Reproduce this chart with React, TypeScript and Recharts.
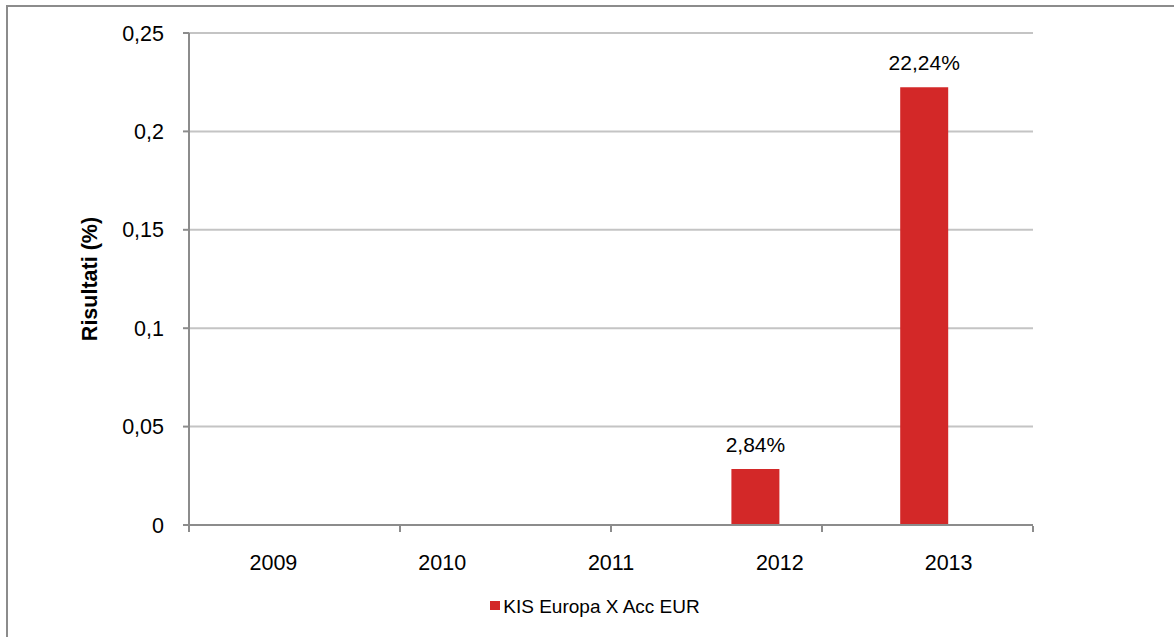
import React from "react";
import {
  BarChart,
  Bar,
  XAxis,
  YAxis,
  CartesianGrid,
  Legend,
  LabelList,
} from "recharts";

// Anni e rendimenti (frazione, 0.2224 = 22,24%)
const years = ["2009", "2010", "2011", "2012", "2013"];
const kisValues: (number | null)[] = [null, null, null, 0.0284, 0.2224];
// serie vuota: in Excel occupa il posto della seconda barra del gruppo
const emptySeries: (number | null)[] = [null, null, null, null, null];
const yTicks = [0, 0.05, 0.1, 0.15, 0.2, 0.25];
const seriesName = "KIS Europa X Acc EUR";

const data = years.map((year, i) => ({
  year,
  kis: kisValues[i],
  empty: emptySeries[i],
}));
const edgeTicks = years.map((_, i) => i).concat(years.length);

const FONT = "'Liberation Sans', Arial, sans-serif";
const AXIS = "#8c8c8c";
const GRID = "#c4c4c4";
const RED = "#d32828";
const TICK_FONT = 21.5;

const fmtTick = (v: number) => String(v).replace(".", ",");
const fmtPct = (v: number) => (v * 100).toFixed(2).replace(".", ",") + "%";

const BarLabel = (props: any) => {
  const { x, y, width, value } = props;
  if (value == null) return null;
  return (
    <text
      x={Number(x) + Number(width) / 2}
      y={Number(y) - 17}
      textAnchor="middle"
      fontSize={21}
      fontFamily={FONT}
      fill="#000"
    >
      {fmtPct(value)}
    </text>
  );
};

const AxisTitle = (props: any) => {
  const { viewBox } = props;
  const cy = viewBox.y + viewBox.height / 2;
  const cx = 90;
  return (
    <text
      x={cx}
      y={cy}
      transform={`rotate(-90, ${cx}, ${cy})`}
      textAnchor="middle"
      dominantBaseline="central"
      fontSize={21.5}
      fontWeight="bold"
      fontFamily={FONT}
      fill="#000"
    >
      Risultati (%)
    </text>
  );
};

const NoTick = () => <g />;

const LegendBox = (props: any) => {
  const items = (props.payload || []).filter((p: any) => p.type !== "none");
  return (
    <div
      style={{
        height: 110,
        boxSizing: "border-box",
        paddingTop: 69,
        paddingLeft: 16,
        display: "flex",
        justifyContent: "center",
        fontFamily: FONT,
        fontSize: 19,
        color: "#000",
      }}
    >
      {items.map((it: any) => (
        <div key={it.value} style={{ display: "flex", alignItems: "flex-start" }}>
          <span
            style={{
              display: "inline-block",
              width: 10,
              height: 9,
              marginTop: 5,
              marginRight: 3,
              background: it.color,
            }}
          />
          <span>{it.value}</span>
        </div>
      ))}
    </div>
  );
};

export default function App() {
  return (
    <div
      style={{
        position: "fixed",
        left: 0,
        top: 0,
        width: 1174,
        height: 637,
        overflow: "hidden",
        background: "#fff",
        fontFamily: FONT,
      }}
    >
      <div
        style={{
          position: "absolute",
          left: 6,
          top: 5,
          width: 1200,
          height: 700,
          border: `2px solid ${AXIS}`,
        }}
      />
      <div style={{ position: "absolute", left: 0, top: 0 }}>
        <BarChart
          width={1174}
          height={637}
          data={data}
          margin={{ top: 33, right: 141, left: 0, bottom: 0 }}
          barGap={0}
          barSize={48}
        >
          <CartesianGrid
            xAxisId="cat"
            vertical={false}
            stroke={GRID}
            strokeWidth={2}
          />
          <XAxis
            xAxisId="cat"
            dataKey="year"
            height={1}
            tickSize={0}
            tickMargin={30}
            tickLine={false}
            axisLine={{ stroke: AXIS, strokeWidth: 2 }}
            tick={{ fontSize: TICK_FONT, fill: "#000", fontFamily: FONT }}
          />
          <XAxis
            xAxisId="edges"
            type="number"
            domain={[0, years.length]}
            ticks={edgeTicks}
            allowDataOverflow
            height={1}
            tick={NoTick}
            axisLine={false}
            tickSize={6}
            tickLine={{ stroke: AXIS, strokeWidth: 2 }}
          />
          <YAxis
            width={189}
            domain={[0, 0.25]}
            ticks={yTicks}
            tickFormatter={fmtTick}
            tickSize={6}
            tickMargin={19}
            axisLine={{ stroke: AXIS, strokeWidth: 2 }}
            tickLine={{ stroke: AXIS, strokeWidth: 2 }}
            tick={{ fontSize: TICK_FONT, fill: "#000", fontFamily: FONT }}
            label={{ content: AxisTitle }}
          />
          <Legend
            verticalAlign="bottom"
            wrapperStyle={{ left: 0, width: 1174 }}
            content={LegendBox}
          />
          <Bar
            xAxisId="cat"
            dataKey="kis"
            name={seriesName}
            fill={RED}
            isAnimationActive={false}
          >
            <LabelList dataKey="kis" content={BarLabel} />
          </Bar>
          <Bar
            xAxisId="cat"
            dataKey="empty"
            name="vuota"
            fill="transparent"
            legendType="none"
            isAnimationActive={false}
          />
        </BarChart>
      </div>
    </div>
  );
}
